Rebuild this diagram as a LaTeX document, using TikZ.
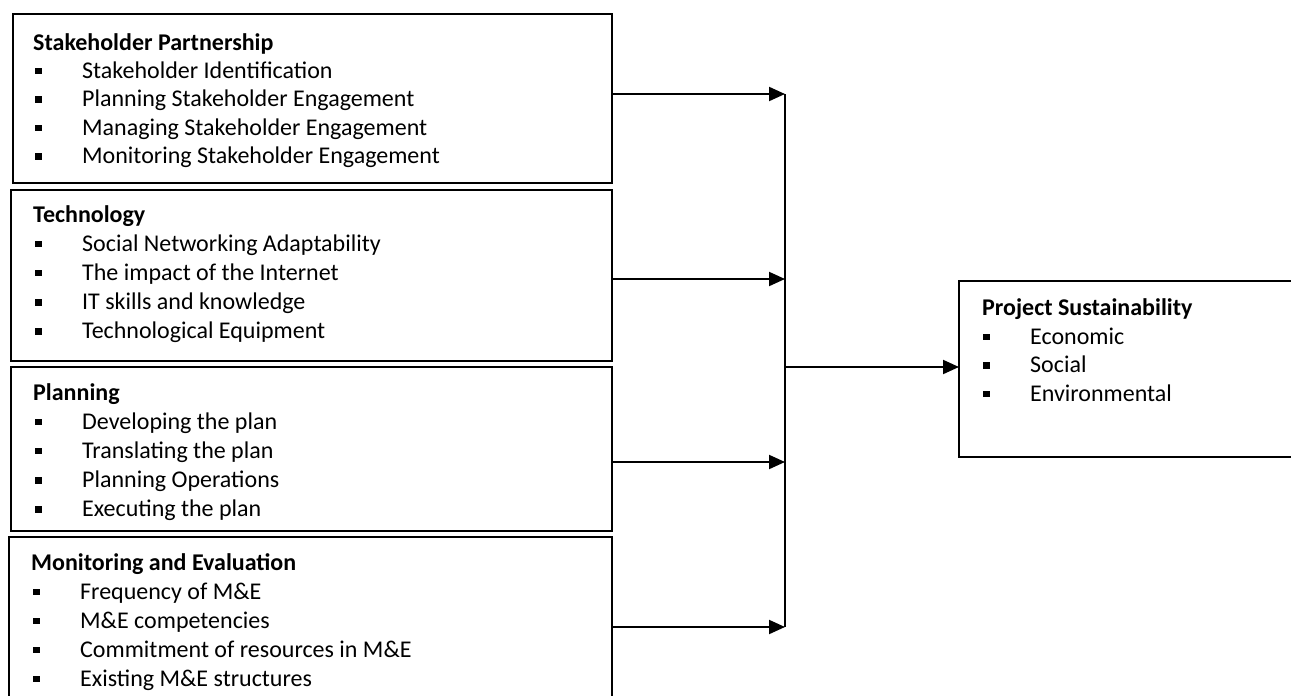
\documentclass[tikz,border=0pt]{standalone}
\usepackage{fontspec}
\setmainfont{Carlito}
\usetikzlibrary{arrows.meta}
\newcommand\sqb{\makebox[47pt][l]{\rule[4pt]{6.5pt}{6.5pt}}}
\begin{document}
\begin{tikzpicture}[x=1pt,y=-1pt,
 box/.style={draw,line width=2pt,anchor=north west,inner sep=0pt,outer sep=0pt},
 head/.style={anchor=base west,inner sep=0pt,font=\fontsize{24}{29}\selectfont\bfseries},
 item/.style={anchor=base west,inner sep=0pt,font=\fontsize{24}{29}\selectfont},
 arr/.style={line width=2pt,-{Triangle[length=16pt,width=14pt]}},
]
\useasboundingbox (0,0) rectangle (1291,696);
\clip (0,0) rectangle (1291,696);
% boxes
\node[box,minimum width=599pt,minimum height=169pt] (b1) at (13,14) {};
\node[box,minimum width=601pt,minimum height=171pt] (b2) at (11,190) {};
\node[box,minimum width=601pt,minimum height=164pt] (b3) at (11,367) {};
\node[box,minimum width=603pt,minimum height=200pt] (b4) at (9,537) {};
\node[box,minimum width=400pt,minimum height=176pt] (rb) at (959,281) {};
% box 1
\node[head] (h1) at (33,50) {Stakeholder Partnership};
\foreach \t [count=\i] in {Stakeholder Identification,Planning Stakeholder Engagement,Managing Stakeholder Engagement,Monitoring Stakeholder Engagement}
  \node[item] (b1i\i) at (35,{78+28.5*(\i-1)}) {\sqb\t};
% box 2
\node[head] (h2) at (33,222) {Technology};
\foreach \t [count=\i] in {Social Networking Adaptability,The impact of the Internet,IT skills and knowledge,Technological Equipment}
  \node[item] (b2i\i) at (35,{251+29.3*(\i-1)}) {\sqb\t};
% box 3
\node[head] (h3) at (33,400) {Planning};
\foreach \t [count=\i] in {Developing the plan,Translating the plan,Planning Operations,Executing the plan}
  \node[item] (b3i\i) at (35,{429+29.3*(\i-1)}) {\sqb\t};
% box 4
\node[head] (h4) at (31,570) {Monitoring and Evaluation};
\foreach \t [count=\i] in {Frequency of M\&E,M\&E competencies,Commitment of resources in M\&E,Existing M\&E structures}
  \node[item] (b4i\i) at (33,{599+29*(\i-1)}) {\sqb\t};
% right box
\node[head] (h5) at (982,315) {Project Sustainability};
\foreach \t [count=\i] in {Economic,Social,Environmental}
  \node[item] (rbi\i) at (983,{344+28.7*(\i-1)}) {\sqb\t};
% connectors
\coordinate (t1) at (785,94);
\coordinate (t2) at (785,279);
\coordinate (t3) at (785,462);
\coordinate (t4) at (785,627);
\coordinate (j) at (786,367);
\draw[line width=1.2pt] (t1) -- (t4);
\draw[arr] (t1 -| b1.east) -- (t1);
\draw[arr] (t2 -| b2.east) -- (t2);
\draw[arr] (t3 -| b3.east) -- (t3);
\draw[arr] (t4 -| b4.east) -- (t4);
\draw[arr] (j) -- (j -| rb.west);
\end{tikzpicture}
\end{document}
